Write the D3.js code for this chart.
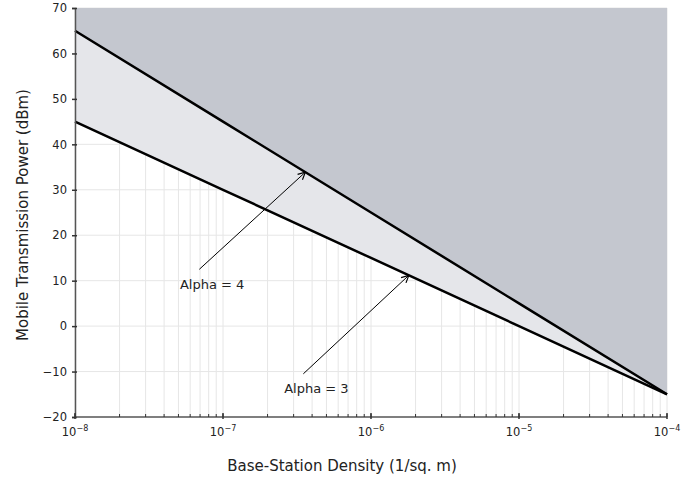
<!DOCTYPE html>
<html><head><meta charset="utf-8">
<script src="https://cdn.jsdelivr.net/npm/d3@7"></script>
<style>body{margin:0;background:#fff}svg{display:block}text{font-family:"DejaVu Sans",Verdana,sans-serif;fill:#222}</style>
</head><body><svg id="c" width="688" height="478"></svg>
<script>
const density = [1e-8, 1e-7, 1e-6, 1e-5, 1e-4];
const alpha4 = [65, 45, 25, 5, -15];
const alpha3 = [45, 30, 15, 0, -15];
const yTicks = [-20, -10, 0, 10, 20, 30, 40, 50, 60, 70];
const xMajor = [1e-8, 1e-7, 1e-6, 1e-5, 1e-4];
const xExp = ["−8", "−7", "−6", "−5", "−4"];
const annotations = [
  {label: "Alpha = 4", x: 3.6e-7, series: "a4", tx: 5.12e-8, ty: 8.2, lx: 6.92e-8, ly: 12.5},
  {label: "Alpha = 3", x: 1.8e-6, series: "a3", tx: 2.59e-7, ty: -14.7, lx: 3.49e-7, ly: -10.5}
];

(function () {
const svg = d3.select("#c");
const L = 75, R = 667, T = 8, B = 417;
const x = d3.scaleLog().domain([1e-8, 1e-4]).range([L, R]);
const y = d3.scaleLinear().domain([-20, 70]).range([B, T]);

const minor = [];
for (let e = -8; e < -4; e++) for (let m = 1; m < 10; m++) minor.push(m * Math.pow(10, e));
minor.push(1e-4);

const g = svg.append("g");
g.selectAll("line.vg").data(minor).join("line")
  .attr("x1", d => x(d)).attr("x2", d => x(d)).attr("y1", T).attr("y2", B)
  .attr("stroke", "#e6e6e6").attr("stroke-width", 1);
g.selectAll("line.hg").data(yTicks.filter(d => d > -20)).join("line")
  .attr("x1", L).attr("x2", R).attr("y1", d => y(d)).attr("y2", d => y(d))
  .attr("stroke", "#e6e6e6").attr("stroke-width", 1);

const pts4 = density.map((d, i) => [d, alpha4[i]]);
const pts3 = density.map((d, i) => [d, alpha3[i]]);

const band = d3.area().x(d => x(d[0])).y0(d => y(d[1])).y1(d => y(d[2]));
g.append("path").datum(density.map((d, i) => [d, alpha3[i], alpha4[i]]))
  .attr("d", band).attr("fill", "#e5e6ea");
const upper = d3.area().x(d => x(d[0])).y0(d => y(d[1])).y1(y(70));
g.append("path").datum(pts4).attr("d", upper).attr("fill", "#c4c7cf");

const line = d3.line().x(d => x(d[0])).y(d => y(d[1]));
[pts4, pts3].forEach(p => g.append("path").datum(p).attr("d", line)
  .attr("fill", "none").attr("stroke", "#000").attr("stroke-width", 2.5));

const yAxis = d3.axisLeft(y).tickValues(yTicks).tickSize(3).tickPadding(5);
const ya = svg.append("g").attr("transform", `translate(${L},0)`).call(yAxis);
ya.select(".domain").attr("stroke", "#555").attr("stroke-width", 1.5);
ya.selectAll(".tick line").attr("stroke", "#333").attr("stroke-width", 1.5).attr("x2", -3).attr("x1", 2);
ya.selectAll("text").attr("font-size", 11.5).attr("fill", "#222").attr("font-family", null);

const xa = svg.append("g").attr("transform", `translate(0,${B})`);
xa.append("line").attr("x1", L).attr("x2", R).attr("stroke", "#555").attr("stroke-width", 1.5);
xa.selectAll("line.mt").data(minor).join("line")
  .attr("x1", d => x(d)).attr("x2", d => x(d))
  .attr("y1", 0).attr("y2", -3).attr("stroke", "#333").attr("stroke-width", 1);
xa.selectAll("line.Mt").data(xMajor).join("line")
  .attr("x1", d => x(d)).attr("x2", d => x(d))
  .attr("y1", 2).attr("y2", -4).attr("stroke", "#333").attr("stroke-width", 1.5);
const lab = xa.selectAll("text.xl").data(xMajor).join("text")
  .attr("x", d => x(d)).attr("y", 19).attr("text-anchor", "middle").attr("font-size", 11.5);
lab.append("tspan").text("10");
lab.append("tspan").attr("dy", -5).attr("font-size", 8).text((d, i) => xExp[i]);

const defs = svg.append("defs");
defs.append("marker").attr("id", "arr").attr("viewBox", "0 0 10 10").attr("refX", 9).attr("refY", 5)
  .attr("markerWidth", 9).attr("markerHeight", 9).attr("orient", "auto-start-reverse").attr("markerUnits", "userSpaceOnUse")
  .append("path").attr("d", "M1,1L9,5L1,9").attr("fill", "none").attr("stroke", "#000").attr("stroke-width", 1.3);
annotations.forEach(a => {
  const vals = a.series === "a4" ? alpha4 : alpha3;
  const lx = Math.log10(a.x);
  const i = Math.min(density.length - 2, Math.floor(lx + 8));
  const t = (lx - Math.log10(density[i])) / (Math.log10(density[i + 1]) - Math.log10(density[i]));
  const yv = vals[i] + t * (vals[i + 1] - vals[i]);
  svg.append("line").attr("x1", x(a.lx)).attr("y1", y(a.ly)).attr("x2", x(a.x)).attr("y2", y(yv))
    .attr("stroke", "#000").attr("stroke-width", 1).attr("marker-end", "url(#arr)");
  svg.append("text").attr("x", x(a.tx)).attr("y", y(a.ty)).attr("font-size", 13).text(a.label);
});

svg.append("text").attr("x", 342).attr("y", 471).attr("text-anchor", "middle")
  .attr("font-size", 15).text("Base-Station Density (1/sq. m)");
svg.append("text").attr("transform", `translate(28,215) rotate(-90)`).attr("text-anchor", "middle")
  .attr("font-size", 15).text("Mobile Transmission Power (dBm)");
})();
</script></body></html>
